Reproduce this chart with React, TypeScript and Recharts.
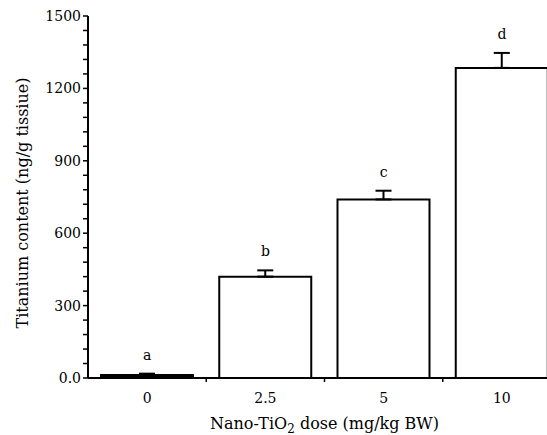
import React from 'react';
import { ComposedChart, Bar, Line, XAxis, YAxis, ErrorBar, Cell, LabelList } from 'recharts';

// doses on the x axis, mean titanium content, upper SD and significance letters
const doses = ['0', '2.5', '5', '10'];
const means = [12, 420, 740, 1285];
const errors = [6, 26, 36, 62];
const letters = ['a', 'b', 'c', 'd'];

const yMax = 1500;
const yTicks = [0, 300, 600, 900, 1200, 1500];
const minorPerMajor = 5;

const data = doses.map((d, i) => ({
  dose: d,
  value: means[i],
  err: [0, errors[i]],
  top: means[i] + errors[i],
  sig: letters[i],
}));

const FONT = '"DejaVu Serif", "Liberation Serif", serif';

// category label in the middle, tick mark on the boundary between categories
const XTick = (props: any) => {
  const { x, y, payload, index } = props;
  const half = payload && payload.offset ? payload.offset : 59;
  return (
    <g>
      {index > 0 && <line x1={x - half} x2={x - half} y1={y - 9} y2={y - 4} stroke="#000" strokeWidth={1.5} />}
      <text x={x} y={y + 17} textAnchor="middle" fontFamily={FONT} fontSize={14} fill="#000">{payload.value}</text>
    </g>
  );
};

// labelled major tick plus the unlabelled minor marks above it
const YTick = (props: any) => {
  const { x, y, payload, height } = props;
  const v = payload.value;
  const axisH = typeof height === 'number' && height > 0 ? height : 362;
  const step = (axisH * 300) / yMax / minorPerMajor;
  const minors = v < yMax ? Array.from({ length: minorPerMajor - 1 }, (_, k) => y - step * (k + 1)) : [];
  return (
    <g>
      <line x1={x + 2} x2={x + 7} y1={y} y2={y} stroke="#000" strokeWidth={1.5} />
      {minors.map((my) => (
        <line key={my} x1={x + 2} x2={x + 7} y1={my} y2={my} stroke="#000" strokeWidth={1.5} />
      ))}
      <text x={x} y={y + 5} textAnchor="end" fontFamily={FONT} fontSize={14} fill="#000">{v === 0 ? '0.0' : String(v)}</text>
    </g>
  );
};

export default function App() {
  return (
    <div style={{ position: 'absolute', left: 0, top: 0, width: 547, height: 435, overflow: 'hidden', background: '#fff' }}>
      <ComposedChart width={561} height={435} data={data} margin={{ top: 16, right: 0, bottom: 0, left: 0 }}>
        <XAxis
          dataKey="dose"
          height={57}
          tickLine={false}
          axisLine={{ stroke: '#000', strokeWidth: 2 }}
          tick={<XTick />}
          interval={0}
          label={{
            content: (p: any) => {
              const vb = p.viewBox || { x: 88, y: 378, width: 473 };
              return (
                <text x={vb.x + vb.width / 2} y={vb.y + 51} textAnchor="middle" fontFamily={FONT} fontSize={16} fill="#000">
                  <tspan>Nano-TiO</tspan>
                  <tspan fontSize={12} dy={4}>2</tspan>
                  <tspan dy={-4}> dose (mg/kg BW)</tspan>
                </text>
              );
            },
          }}
        />
        <YAxis
          width={88}
          domain={[0, yMax]}
          ticks={yTicks}
          interval={0}
          minTickGap={0}
          tickSize={5}
          tickMargin={2}
          axisLine={{ stroke: '#000', strokeWidth: 2 }}
          tickLine={false}
          tick={<YTick />}
          label={{
            content: (p: any) => {
              const vb = p.viewBox || { x: 0, y: 16, width: 88, height: 362 };
              const cx = 28;
              const cy = vb.y + vb.height / 2 + 6;
              return (
                <text x={cx} y={cy} transform={`rotate(-90 ${cx} ${cy})`} textAnchor="middle" fontFamily={FONT} fontSize={16} fill="#000">
                  Titanium content (ng/g tissiue)
                </text>
              );
            },
          }}
        />
        <Bar dataKey="value" barSize={92} fill="#fff" stroke="#000" strokeWidth={2} isAnimationActive={false}>
          {data.map((d, i) => (
            <Cell key={d.dose} fill={i === 0 ? '#000' : '#fff'} />
          ))}
          <ErrorBar dataKey="err" width={8} stroke="#000" strokeWidth={2} direction="y" />
        </Bar>
        <Line dataKey="top" stroke="transparent" dot={false} activeDot={false} isAnimationActive={false}>
          <LabelList dataKey="sig" position="top" offset={14} fontFamily={FONT} fontSize={14} fill="#000" />
        </Line>
      </ComposedChart>
    </div>
  );
}
